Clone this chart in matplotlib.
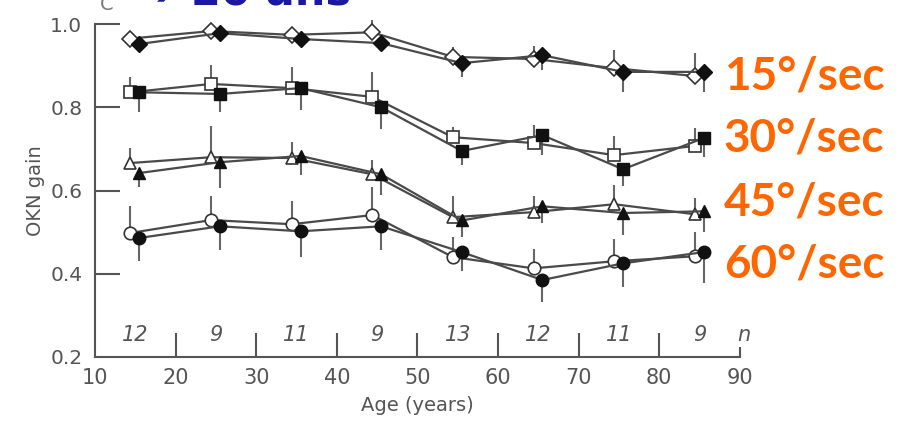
import matplotlib
matplotlib.use("Agg")
import matplotlib.pyplot as plt
import numpy as np

ages = [15, 25, 35, 45, 55, 65, 75, 85]
n_labels = ["12", "9", "11", "9", "13", "12", "11", "9"]
speed_labels = ["15°/sec", "30°/sec", "45°/sec", "60°/sec"]

# open markers (upper error bars), filled markers (lower error bars)
d15_open = [0.965, 0.983, 0.974, 0.980, 0.921, 0.916, 0.894, 0.875]
d15_open_err = [0.010, 0.012, 0.010, 0.030, 0.024, 0.030, 0.043, 0.055]
d15_fill = [0.952, 0.978, 0.964, 0.954, 0.906, 0.925, 0.885, 0.885]
d15_fill_err = [0.020, 0.012, 0.020, 0.020, 0.033, 0.036, 0.048, 0.048]

d30_open = [0.836, 0.856, 0.846, 0.825, 0.728, 0.714, 0.685, 0.707]
d30_open_err = [0.037, 0.045, 0.050, 0.060, 0.025, 0.043, 0.046, 0.043]
d30_fill = [0.836, 0.832, 0.846, 0.800, 0.695, 0.733, 0.651, 0.726]
d30_fill_err = [0.048, 0.044, 0.053, 0.052, 0.034, 0.048, 0.040, 0.046]

d45_open = [0.666, 0.680, 0.678, 0.639, 0.536, 0.548, 0.567, 0.543]
d45_open_err = [0.036, 0.075, 0.038, 0.034, 0.050, 0.040, 0.046, 0.040]
d45_fill = [0.642, 0.668, 0.683, 0.639, 0.528, 0.562, 0.546, 0.550]
d45_fill_err = [0.034, 0.063, 0.046, 0.050, 0.040, 0.040, 0.053, 0.050]

d60_open = [0.498, 0.529, 0.519, 0.541, 0.440, 0.413, 0.430, 0.442]
d60_open_err = [0.064, 0.058, 0.056, 0.067, 0.048, 0.046, 0.053, 0.058]
d60_fill = [0.486, 0.514, 0.502, 0.514, 0.452, 0.385, 0.425, 0.452]
d60_fill_err = [0.056, 0.057, 0.062, 0.057, 0.046, 0.053, 0.057, 0.075]

series = [
    ("D", 8, d15_open, d15_open_err, d15_fill, d15_fill_err),
    ("s", 8.5, d30_open, d30_open_err, d30_fill, d30_fill_err),
    ("^", 9, d45_open, d45_open_err, d45_fill, d45_fill_err),
    ("o", 9, d60_open, d60_open_err, d60_fill, d60_fill_err),
]

grey = "#555555"
line_c = "#4a4a4a"

fig = plt.figure(figsize=(9.04, 4.25), dpi=100)
ax = fig.add_axes([0.105, 0.16, 0.7135, 0.7835])

x_open = np.array(ages) - 0.6
x_fill = np.array(ages) + 0.5

for mk, ms, yo, eo, yf, ef in series:
    yo = np.array(yo); yf = np.array(yf)
    ax.errorbar(x_open, yo, yerr=[np.zeros(len(yo)), eo], fmt="none",
                ecolor="#666666", elinewidth=1.5, capsize=0, zorder=2, clip_on=False)
    ax.errorbar(x_fill, yf, yerr=[ef, np.zeros(len(yf))], fmt="none",
                ecolor="#666666", elinewidth=1.5, capsize=0, zorder=2, clip_on=False)
    ax.plot(x_open, yo, color=line_c, lw=1.6, marker=mk, ms=ms,
            mfc="white", mec="#333333", mew=1.2, zorder=3, clip_on=False)
    ax.plot(x_fill, yf, color=line_c, lw=1.6, marker=mk, ms=ms,
            mfc="#111111", mec="#111111", mew=1.0, zorder=4, clip_on=False)

for a, lab in zip(ages, n_labels):
    ax.text(a, 0.252, lab, ha="center", va="center", fontsize=15,
            fontstyle="italic", color=grey, family="DejaVu Sans")
ax.text(90.5, 0.252, "n", ha="center", va="center", fontsize=15,
        fontstyle="italic", color=grey, family="DejaVu Sans")

ax.set_xlim(10, 90)
ax.set_ylim(0.2, 1.0)
ax.set_xticks(range(10, 91, 10))
ax.set_yticks([0.2, 0.4, 0.6, 0.8, 1.0])
ax.set_yticklabels(["0.2", "0.4", "0.6", "0.8", "1.0"])
for s in ["top", "right"]:
    ax.spines[s].set_visible(False)
for s in ["left", "bottom"]:
    ax.spines[s].set_color(grey)
    ax.spines[s].set_linewidth(1.5)
ax.tick_params(axis="x", direction="in", length=17, width=1.5, color=grey,
               labelsize=15, labelcolor=grey, pad=8)
ax.tick_params(axis="y", direction="in", length=18, width=1.5, color=grey,
               labelsize=14.5, labelcolor=grey, pad=9)
ax.xaxis.get_major_ticks()[-1].tick1line.set_markersize(7)
ax.xaxis.get_major_ticks()[0].tick1line.set_markersize(0)
ax.yaxis.get_major_ticks()[0].tick1line.set_markersize(0)
ax.set_xlabel("Age (years)", fontsize=14, color=grey, labelpad=6)
ax.set_ylabel("OKN gain", fontsize=14, color=grey)
ax.yaxis.set_label_coords(-0.078, 0.5)

# orange speed labels (baselines)
for lab, yp in zip(speed_labels, [90, 152, 215, 277]):
    fig.text(724 / 904, 1 - yp / 425, lab, ha="left", va="baseline",
             fontsize=33, fontweight="bold", color="#FF6600", family="Lato")

# cut-off title pieces
fig.text(100 / 904, 1 - 4 / 425, "C", ha="left", va="center", fontsize=14, color="#777777")
fig.text(140 / 904, 1 + 6 / 425, "➔ 20 ans", ha="left", va="center", fontsize=31,
         fontweight="bold", color="#1a1aa0", family=["DejaVu Sans"])

fig.savefig("out.png", dpi=100)
